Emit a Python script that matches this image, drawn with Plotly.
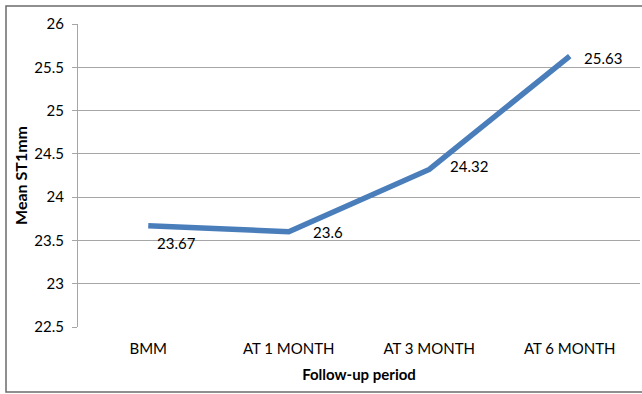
import plotly.graph_objects as go

categories = ["BMM", "AT 1 MONTH", "AT 3 MONTH", "AT 6 MONTH"]
values = [23.67, 23.6, 24.32, 25.63]
labels = ["23.67", "23.6", "24.32", "25.63"]
label_shift = [(28, -17), (39, 0), (40, 3), (33, -2)]

W, H = 642, 394
L, R, T, B = 78, 2, 24, 67
pw, ph = W - L - R, H - T - B

fig = go.Figure()
fig.add_trace(go.Scatter(
    x=list(range(len(categories))), y=values, mode="lines",
    line=dict(color="#4a7ebb", width=5.5), hoverinfo="skip", showlegend=False,
))

for i, (v, t) in enumerate(zip(values, labels)):
    dx, dy = label_shift[i]
    fig.add_annotation(x=i, y=v, text=t, showarrow=False, xshift=dx, yshift=dy,
                       font=dict(family="Lato, Open Sans, sans-serif", size=15, color="#000"))

def px_x(p):
    return (p - L) / pw

def px_y(p):
    return (H - B - p) / ph

fig.add_shape(type="rect", xref="paper", yref="paper",
              x0=px_x(6), x1=px_x(W + 5), y0=px_y(392), y1=px_y(6),
              line=dict(color="#6b6b6b", width=1.5), layer="below")

fig.update_layout(
    width=W, height=H,
    margin=dict(l=L, r=R, t=T, b=B),
    paper_bgcolor="white", plot_bgcolor="white",
    font=dict(family="Lato, Open Sans, sans-serif", size=15, color="#000"),
    xaxis=dict(
        tickmode="array", tickvals=list(range(len(categories))), ticktext=categories,
        range=[-0.5, 3.5], showgrid=False, zeroline=False,
        showline=False, ticks="", tickfont=dict(size=15), ticklabelstandoff=11,
        title=dict(text="<b>Follow-up period</b>", font=dict(size=15), standoff=13),
    ),
    yaxis=dict(
        range=[22.5, 26], dtick=0.5, tick0=22.5,
        showgrid=True, gridcolor="#a6a6a6", gridwidth=1, zeroline=False,
        showline=True, linecolor="#a6a6a6", linewidth=1,
        ticks="outside", ticklen=5, tickcolor="#a6a6a6",
        tickfont=dict(size=15), ticklabelstandoff=5,
        title=dict(text="<b>Mean ST1mm</b>", font=dict(size=16), standoff=2),
    ),
)

fig.write_html("out.html")
